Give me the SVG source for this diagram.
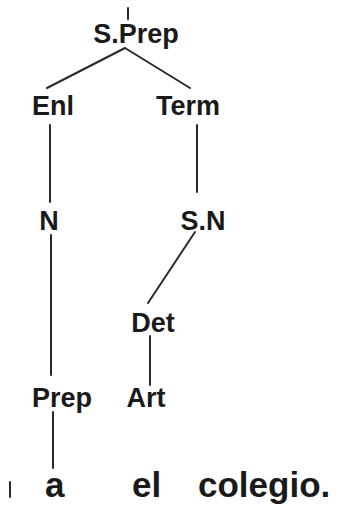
<svg xmlns="http://www.w3.org/2000/svg" width="339" height="505" viewBox="0 0 339 505">
<style>
.lbl{font-family:"Liberation Sans",Arial,sans-serif;font-size:27px;font-weight:bold;fill:#1a1a1a;text-anchor:middle}
.word{font-family:"Liberation Sans",Arial,sans-serif;font-size:35px;font-weight:bold;fill:#1a1a1a}
.edge{stroke:#2a2a2a;stroke-width:2;fill:none;stroke-linecap:round}
</style>
<rect width="339" height="505" fill="#ffffff"/>
<g id="connectors">
<line class="edge" x1="128" y1="8" x2="128" y2="19"/>
<line class="edge" x1="125" y1="48" x2="47" y2="88"/>
<line class="edge" x1="125" y1="48" x2="190" y2="88"/>
<line class="edge" x1="50" y1="125" x2="50" y2="202"/>
<line class="edge" x1="197" y1="125" x2="197" y2="192"/>
<line class="edge" x1="195" y1="232" x2="148" y2="303"/>
<line class="edge" x1="51" y1="235" x2="51" y2="375"/>
<line class="edge" x1="150" y1="336" x2="150" y2="385"/>
<line class="edge" x1="53" y1="412" x2="53" y2="468"/>
<line class="edge" x1="10" y1="482" x2="10" y2="497" stroke="#555"/>
</g>
<g id="n-sprep"><text class="lbl" x="136" y="43">S.Prep</text></g>
<g id="n-enl"><text class="lbl" x="53" y="115">Enl</text></g>
<g id="n-term"><text class="lbl" x="188" y="115">Term</text></g>
<g id="n-n"><text class="lbl" x="49" y="230">N</text></g>
<g id="n-sn"><text class="lbl" x="203" y="230">S.N</text></g>
<g id="n-det"><text class="lbl" x="153" y="332">Det</text></g>
<g id="n-prep"><text class="lbl" x="62" y="407">Prep</text></g>
<g id="n-art"><text class="lbl" x="146" y="407">Art</text></g>
<g id="w-a"><text class="word" x="45" y="497">a</text></g>
<g id="w-el"><text class="word" x="132" y="497">el</text></g>
<g id="w-colegio"><text class="word" x="198" y="497">colegio.</text></g>
</svg>
